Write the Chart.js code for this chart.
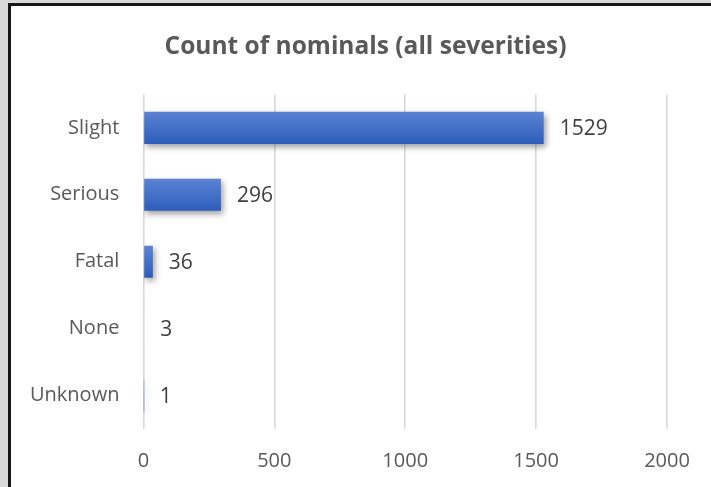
<!DOCTYPE html>
<html>
<head>
<meta charset="utf-8">
<script src="https://cdn.jsdelivr.net/npm/chart.js@4.4.1/dist/chart.umd.min.js"></script>
<style>
  html, body { margin: 0; padding: 0; background: #d8d8d8; width: 711px; height: 487px; overflow: hidden; }
  .frame {
    position: absolute; left: 8px; top: 3px;
    width: 720px; height: 500px;
    border-left: 3px solid #161616; border-top: 3px solid #161616;
    background: #ffffff; overflow: hidden;
  }
  #chart { position: absolute; left: 0; top: 0; }
</style>
</head>
<body>
<div class="frame">
  <canvas id="chart" width="700" height="481"></canvas>
</div>
<script>
// Severity categories and their counts
const categories = ['Slight', 'Serious', 'Fatal', 'None', 'Unknown'];
const counts = [1529, 296, 36, 3, 1];
const axisTicks = [0, 500, 1000, 1500, 2000];

const FONT = "'Open Sans', 'DejaVu Sans', sans-serif";
const BAR_PCT = 0.48;

// Vertical gradient per bar, top lighter, bottom deeper blue
function barGradient(ctx) {
  const chart = ctx.chart;
  const yScale = chart.scales.y;
  if (!yScale || ctx.type !== 'data' || !chart.chartArea) return '#4472c4';
  const c = yScale.getPixelForValue(ctx.dataIndex);
  const half = (yScale.height / categories.length) * BAR_PCT / 2;
  if (!isFinite(c) || !isFinite(half)) return '#4472c4';
  const g = chart.ctx.createLinearGradient(0, c - half, 0, c + half);
  g.addColorStop(0, '#5b83d2');
  g.addColorStop(0.5, '#4470c8');
  g.addColorStop(1, '#2d5dbb');
  return g;
}

// Title is centred over the region between the category labels' left margin and the plot's right edge
const titleSpan = {
  id: 'titleSpan',
  afterLayout(chart) {
    if (chart.titleBlock) chart.titleBlock.left = 53;
  }
};

// Soft drop shadow under bars, then value labels at the bar ends
const barDecor = {
  id: 'barDecor',
  beforeDatasetsDraw(chart) {
    const c = chart.ctx;
    c.save();
    c.shadowColor = 'rgba(0,0,0,0.38)';
    c.shadowBlur = 6;
    c.shadowOffsetX = 2;
    c.shadowOffsetY = 3;
  },
  afterDatasetsDraw(chart) {
    const c = chart.ctx;
    c.restore();
    const meta = chart.getDatasetMeta(0);
    c.save();
    c.font = '21px ' + FONT;
    c.fillStyle = '#404040';
    c.textAlign = 'left';
    c.textBaseline = 'middle';
    meta.data.forEach((bar, i) => {
      c.fillText(String(counts[i]), bar.x + 16, bar.y + 1);
    });
    c.restore();
  }
};

new Chart(document.getElementById('chart'), {
  type: 'bar',
  data: {
    labels: categories,
    datasets: [{
      data: counts,
      backgroundColor: barGradient,
      borderWidth: 0,
      categoryPercentage: 1,
      barPercentage: BAR_PCT
    }]
  },
  options: {
    indexAxis: 'y',
    responsive: false,
    animation: false,
    layout: { padding: { left: 0, right: 44, top: 0, bottom: 0 } },
    plugins: {
      legend: { display: false },
      tooltip: { enabled: false },
      title: {
        display: true,
        text: 'Count of nominals (all severities)',
        color: '#595959',
        font: { family: FONT, size: 24.5, weight: 'bold', lineHeight: 1.2 },
        padding: { top: 26, bottom: 33 }
      }
    },
    scales: {
      x: {
        min: 0,
        max: 2000,
        afterBuildTicks(scale) { scale.ticks = axisTicks.map(v => ({ value: v })); },
        afterFit(scale) {
          scale.height = 58;
          scale.paddingLeft = 0;
          scale.paddingRight = 0;
        },
        grid: { color: '#d9d9d9', lineWidth: 1.6, drawTicks: false },
        border: { display: false },
        ticks: {
          color: '#595959', padding: 20, font: { family: FONT, size: 20 },
          callback: (v) => String(v)
        }
      },
      y: {
        afterFit(scale) {
          scale.width = 132.4;
          scale.paddingTop = 0;
          scale.paddingBottom = 0;
        },
        grid: { display: false, drawTicks: false },
        border: { display: false },
        ticks: { color: '#595959', padding: 24, font: { family: FONT, size: 20 } }
      }
    }
  },
  plugins: [titleSpan, barDecor]
});
</script>
</body>
</html>
